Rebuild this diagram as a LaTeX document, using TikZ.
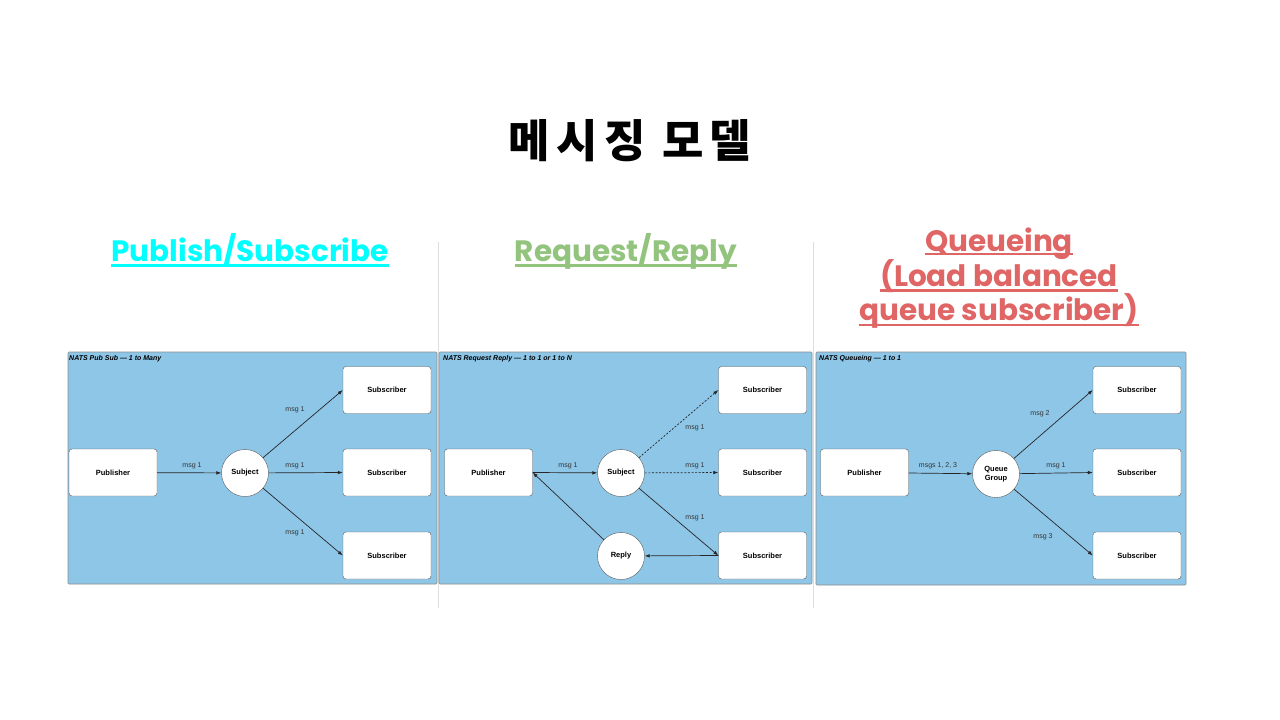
\documentclass[tikz,border=0pt]{standalone}
\usepackage{fontspec}
\setmainfont{Liberation Sans}
\newfontfamily\kr{Noto Sans CJK KR}[LetterSpace=14]
\newfontfamily\pop{Poppins}
\usetikzlibrary{arrows.meta}
\definecolor{panelblue}{HTML}{8EC6E8}
\definecolor{hcyan}{HTML}{00FFFF}
\definecolor{hgreen}{HTML}{93C47D}
\definecolor{hred}{HTML}{E06666}
\tikzset{
  panel/.style={draw=black!45, fill=panelblue, rounded corners=1pt, line width=0.6pt},
  box/.style={draw=black!65, fill=white, rounded corners=3pt, minimum width=88pt, minimum height=47pt, inner sep=0pt, font=\fontsize{7.5}{9}\selectfont\bfseries},
  circ/.style={circle, draw=black!65, fill=white, minimum size=47pt, inner sep=0pt, align=center, font=\fontsize{7.5}{9}\selectfont\bfseries},
  conn/.style={-{Latex[length=5pt,width=3.6pt]}, line width=0.7pt, draw=black!85},
  dconn/.style={conn, dash pattern=on 2pt off 1.6pt},
  lbl/.style={font=\fontsize{7}{8}\selectfont, text=black!80, inner sep=0pt},
  ptitle/.style={font=\fontsize{7}{8}\selectfont\bfseries\itshape, anchor=west, inner sep=0pt},
  sepline/.style={draw=black!13, line width=0.8pt},
  head/.style={font=\pop\bfseries\fontsize{29.5}{33}\selectfont, inner sep=0pt, anchor=base},
  uline/.style={line width=2.4pt}
}
\begin{document}
\begin{tikzpicture}[x=1pt,y=-1pt]
\useasboundingbox[fill=white] (0,0) rectangle (1280,720);

% title
\node[font=\kr\bfseries\fontsize{45}{50}\selectfont, inner sep=0pt] (title) at (630,141) {메시징 모델};

% separators
\draw[sepline] (438,242) -- (438,608);
\draw[sepline] (813,242) -- (813,608);

% headings
\node[head, text=hcyan] (h1) at (250,261) {Publish/Subscribe};
\draw[uline, hcyan] ([yshift=-4.5pt]h1.base west) -- ([yshift=-4.5pt]h1.base east);
\node[head, text=hgreen] (h2) at (626,261) {Request/Reply};
\draw[uline, hgreen] ([yshift=-4.5pt]h2.base west) -- ([yshift=-4.5pt]h2.base east);
\node[head, text=hred] (h3a) at (999,251) {Queueing};
\draw[uline, hred] ([yshift=-3pt]h3a.base west) -- ([yshift=-3pt]h3a.base east);
\node[head, text=hred] (h3b) at (999,286) {(Load balanced};
\draw[uline, hred] ([yshift=-4.5pt]h3b.base west) -- ([yshift=-4.5pt]h3b.base east);
\node[head, text=hred] (h3c) at (999,320) {queue subscriber)};
\draw[uline, hred] ([yshift=-5pt]h3c.base west) -- ([yshift=-5pt]h3c.base east);

% panels
\draw[panel] (68,352) rectangle (437,584);
\draw[panel] (439,352) rectangle (812,584);
\draw[panel] (816,352) rectangle (1186,585);

% ---------- panel 1 ----------
\node[ptitle] (t1) at (69,359) {NATS Pub Sub — 1 to Many};
\node[box] (p1pub) at (113,472.5) {Publisher};
\node[circ] (p1sub) at (245,473) {Subject};
\node[box] (p1s1) at (387,390) {Subscriber};
\node[box] (p1s2) at (387,472.5) {Subscriber};
\node[box] (p1s3) at (387,555.5) {Subscriber};
\draw[conn] (p1pub) -- (p1sub);
\draw[conn] (p1sub) -- (p1s1.west);
\draw[conn] (p1sub) -- (p1s2.west);
\draw[conn] (p1sub) -- (p1s3.west);
\node[lbl] (l11) at (192,466) {msg 1};
\node[lbl] (l12) at (295,410) {msg 1};
\node[lbl] (l13) at (295,466) {msg 1};
\node[lbl] (l14) at (295,533) {msg 1};

% ---------- panel 2 ----------
\node[ptitle] (t2) at (443,359) {NATS Request Reply — 1 to 1 or 1 to N};
\node[box] (p2pub) at (488.5,472.5) {Publisher};
\node[circ] (p2sub) at (621,473) {Subject};
\node[circ] (p2rep) at (621,556) {Reply};
\node[box] (p2s1) at (762.5,390) {Subscriber};
\node[box] (p2s2) at (762.5,472.5) {Subscriber};
\node[box] (p2s3) at (762.5,555.5) {Subscriber};
\draw[conn] (p2pub.east) -- (p2sub);
\draw[dconn] (p2sub) -- (p2s1.west);
\draw[dconn] (p2sub) -- (p2s2.west);
\draw[conn] (p2sub) -- (p2s3.west);
\draw[conn] (p2s3.west) -- (p2rep);
\draw[conn] (p2rep) -- (p2pub.east);
\node[lbl] (l21) at (568,466) {msg 1};
\node[lbl] (l22) at (695,428) {msg 1};
\node[lbl] (l23) at (695,466) {msg 1};
\node[lbl] (l24) at (695,518) {msg 1};

% ---------- panel 3 ----------
\node[ptitle] (t3) at (819,359) {NATS Queueing — 1 to 1};
\node[box] (p3pub) at (864.5,472.5) {Publisher};
\node[circ] (p3q) at (996,474) {Queue\\Group};
\node[box] (p3s1) at (1137,390) {Subscriber};
\node[box] (p3s2) at (1137,472.5) {Subscriber};
\node[box] (p3s3) at (1137,555.5) {Subscriber};
\draw[conn] (p3pub) -- (p3q);
\draw[conn] (p3q) -- (p3s1.west);
\draw[conn] (p3q) -- (p3s2.west);
\draw[conn] (p3q) -- (p3s3.west);
\node[lbl] (l31) at (938,466) {msgs 1, 2, 3};
\node[lbl] (l32) at (1040,414) {msg 2};
\node[lbl] (l33) at (1056,466) {msg 1};
\node[lbl] (l34) at (1043,537) {msg 3};
\end{tikzpicture}
\end{document}
